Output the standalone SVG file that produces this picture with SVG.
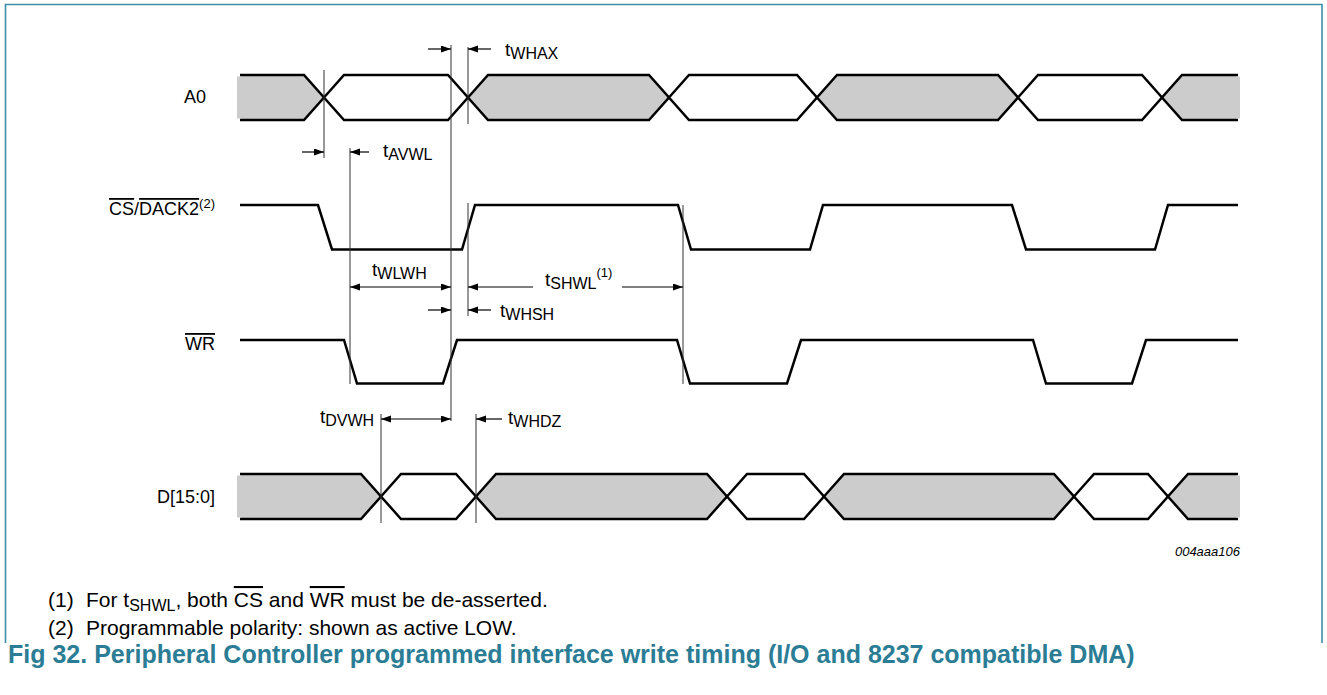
<svg xmlns="http://www.w3.org/2000/svg" width="1327" height="695" viewBox="0 0 1327 695">
<style>
text{font-family:"Liberation Sans",Arial,sans-serif;fill:#000}
.lbl{font-size:18px}
.tm{font-size:19px}
.sub{font-size:16px}
.sup{font-size:13px}
.ov{text-decoration:overline}
.wave{fill:none;stroke:#000;stroke-width:2.5;stroke-linejoin:miter}
.busg{fill:#cccccc;stroke:#000;stroke-width:2.5}
.busw{fill:#fff;stroke:#000;stroke-width:2.5}
.ref{stroke:#333;stroke-width:1;fill:none}
.arr{stroke:#000;stroke-width:1.2;fill:none}
.fn{font-size:21px}
.fsub{font-size:16px}
.cap{font-size:25px;font-weight:bold;fill:#2a7d95}
.id{font-size:13px;font-style:italic}
</style>
<defs>
<marker id="ah" markerUnits="userSpaceOnUse" markerWidth="11" markerHeight="8" refX="10" refY="3.5" orient="auto-start-reverse">
<path d="M0,0 L10,3.5 L0,7 z" fill="#000"/>
</marker>
</defs>
<rect width="1327" height="695" fill="#fff"/>
<g id="frame">
<path d="M5.5,643 V4.5 H1322 V643" fill="none" stroke="#3c8fa6" stroke-width="1.6"/>
</g>

<g id="sig-A0">
<text class="lbl" x="206" y="103" text-anchor="end">A0</text>
<path class="busg" d="M240,75 H304 L324,97.5 L304,120 H240"/>
<path class="busw" d="M324,97.5 L344,75 H448 L468,97.5 L448,120 H344 Z"/>
<path class="busg" d="M468,97.5 L488,75 H649 L669,97.5 L649,120 H488 Z"/>
<path class="busw" d="M669,97.5 L689,75 H797 L817,97.5 L797,120 H689 Z"/>
<path class="busg" d="M817,97.5 L837,75 H998 L1018,97.5 L998,120 H837 Z"/>
<path class="busw" d="M1018,97.5 L1038,75 H1142 L1162,97.5 L1142,120 H1038 Z"/>
<path class="busg" d="M1238,75 H1182 L1162,97.5 L1182,120 H1238"/>
<rect x="237" y="76.5" width="4" height="42" fill="#cccccc"/>
<rect x="1236" y="76.5" width="4" height="42" fill="#cccccc"/>
</g>

<g id="sig-CS">
<text class="lbl" x="215" y="215" text-anchor="end"><tspan class="ov">CS</tspan>/<tspan class="ov">DACK2</tspan><tspan class="sup" dy="-7">(2)</tspan></text>
<path class="wave" d="M240,205 H318 L332,249.5 H462 L475,205 H678 L691,249.5 H810 L823,205 H1012 L1026,249.5 H1155 L1168,205 H1238"/>
</g>

<g id="sig-WR">
<text class="lbl" x="215" y="350" text-anchor="end"><tspan class="ov">WR</tspan></text>
<path class="wave" d="M240,340 H344 L357,383.5 H443 L457,340 H677 L690,383.5 H787 L801,340 H1033 L1046,383.5 H1132 L1146,340 H1238"/>
</g>

<g id="sig-D">
<text class="lbl" x="215" y="503" text-anchor="end">D[15:0]</text>
<path class="busg" d="M240,474 H361 L381,496.5 L361,519 H240"/>
<path class="busw" d="M381,496.5 L401,474 H456 L476,496.5 L456,519 H401 Z"/>
<path class="busg" d="M476,496.5 L496,474 H707 L727,496.5 L707,519 H496 Z"/>
<path class="busw" d="M727,496.5 L747,474 H804 L824,496.5 L804,519 H747 Z"/>
<path class="busg" d="M824,496.5 L844,474 H1054 L1074,496.5 L1054,519 H844 Z"/>
<path class="busw" d="M1074,496.5 L1094,474 H1148 L1168,496.5 L1148,519 H1094 Z"/>
<path class="busg" d="M1238,474 H1188 L1168,496.5 L1188,519 H1238"/>
<rect x="237" y="475.5" width="4" height="42" fill="#cccccc"/>
<rect x="1236" y="475.5" width="4" height="42" fill="#cccccc"/>
<text class="id" x="1240" y="556" text-anchor="end">004aaa106</text>
</g>

<g id="connectors">
<path class="ref" d="M324,70 V158 M468,47 V124 M451,45 V421 M350,148 V384 M468,203 V316 M683,205 V384 M381,414 V523 M476,414 V523"/>
<line class="arr" x1="428" y1="49" x2="451" y2="49" marker-end="url(#ah)"/>
<line class="arr" x1="491" y1="49" x2="468" y2="49" marker-end="url(#ah)"/>
<line class="arr" x1="302" y1="152" x2="324" y2="152" marker-end="url(#ah)"/>
<line class="arr" x1="369" y1="152" x2="350" y2="152" marker-end="url(#ah)"/>
<line class="arr" x1="350" y1="287" x2="451" y2="287" marker-start="url(#ah)" marker-end="url(#ah)"/>
<line class="arr" x1="533" y1="287" x2="468" y2="287" marker-end="url(#ah)"/>
<line class="arr" x1="622" y1="287" x2="683" y2="287" marker-end="url(#ah)"/>
<line class="arr" x1="428" y1="310" x2="451" y2="310" marker-end="url(#ah)"/>
<line class="arr" x1="491" y1="310" x2="468" y2="310" marker-end="url(#ah)"/>
<line class="arr" x1="381" y1="419" x2="451" y2="419" marker-start="url(#ah)" marker-end="url(#ah)"/>
<line class="arr" x1="502" y1="419" x2="476" y2="419" marker-end="url(#ah)"/>
</g>

<g id="timing-labels">
<text class="tm" x="505" y="56">t<tspan class="sub" dy="3">WHAX</tspan></text>
<text class="tm" x="383" y="157">t<tspan class="sub" dy="3">AVWL</tspan></text>
<text class="tm" x="372" y="276">t<tspan class="sub" dy="3">WLWH</tspan></text>
<text class="tm" x="545" y="286">t<tspan class="sub" dy="3">SHWL</tspan><tspan class="sup" dy="-12">(1)</tspan></text>
<text class="tm" x="500" y="317">t<tspan class="sub" dy="3">WHSH</tspan></text>
<text class="tm" x="320" y="423">t<tspan class="sub" dy="3">DVWH</tspan></text>
<text class="tm" x="508" y="424">t<tspan class="sub" dy="3">WHDZ</tspan></text>
</g>

<g id="notes">
<text class="fn" x="48" y="607">(1)</text>
<text class="fn" x="86" y="607">For t<tspan class="fsub" dy="4">SHWL</tspan><tspan dy="-4">, both </tspan><tspan class="ov">CS</tspan> and <tspan class="ov">WR</tspan> must be de-asserted.</text>
<text class="fn" x="48" y="635">(2)</text>
<text class="fn" x="86" y="635">Programmable polarity: shown as active LOW.</text>
<text class="cap" x="8" y="663">Fig 32. Peripheral Controller programmed interface write timing (I/O and 8237 compatible DMA)</text>
</g>
</svg>
